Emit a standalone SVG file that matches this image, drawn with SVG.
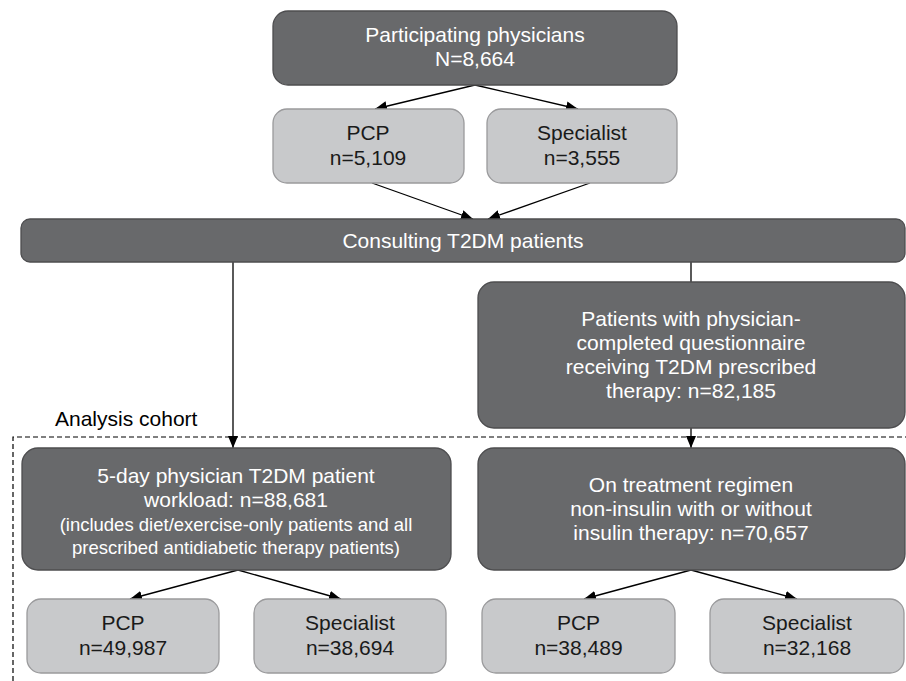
<svg xmlns="http://www.w3.org/2000/svg" width="906" height="681" viewBox="0 0 906 681">
<defs>
<marker id="ah" markerUnits="userSpaceOnUse" markerWidth="13" markerHeight="11" refX="12" refY="5" orient="auto" viewBox="0 0 13 11">
<path d="M0,0 L12,5 L0,10 z" fill="#000"/>
</marker>
<style>
.dk{fill:#68696b;stroke:#4d4d4f;stroke-width:1.3}
.lt{fill:#c8c9cb;stroke:#9a9a9c;stroke-width:1.3}
.tw{font-family:"Liberation Sans",Arial,sans-serif;font-size:21px;fill:#fff;text-anchor:middle}
.tb{font-family:"Liberation Sans",Arial,sans-serif;font-size:21px;fill:#1a1a1a;text-anchor:middle}
.ts{font-size:18.5px}
.cn{stroke:#000;stroke-width:1.3;fill:none}
.ar{marker-end:url(#ah)}
</style>
</defs>
<rect width="906" height="681" fill="#fff"/>
<g id="connectors">
<line class="cn ar" x1="475" y1="85" x2="375" y2="109"/>
<line class="cn ar" x1="475" y1="85" x2="578" y2="109"/>
<line class="cn ar" x1="372" y1="183" x2="473" y2="219"/>
<line class="cn ar" x1="590" y1="183" x2="488" y2="219"/>
<line class="cn ar" x1="233" y1="262" x2="233" y2="448"/>
<line class="cn" x1="691" y1="262" x2="691" y2="282"/>
<line class="cn ar" x1="691" y1="428" x2="691" y2="448"/>
<line class="cn ar" x1="238" y1="570" x2="130" y2="599"/>
<line class="cn ar" x1="238" y1="570" x2="341" y2="599"/>
<line class="cn ar" x1="691" y1="570" x2="584" y2="599"/>
<line class="cn ar" x1="691" y1="570" x2="797" y2="599"/>
</g>
<g id="cohort">
<path d="M13,681 V437 H906" fill="none" stroke="#000" stroke-width="1.2" stroke-dasharray="5,3"/>
<text x="55" y="426" class="tb" style="text-anchor:start;fill:#000">Analysis cohort</text>
</g>
<g id="participating">
<rect class="dk" x="273" y="11" width="404" height="74" rx="15"/>
<text class="tw" x="475" y="42">Participating physicians</text>
<text class="tw" x="475" y="66">N=8,664</text>
</g>
<g id="pcp-top">
<rect class="lt" x="273" y="109" width="191" height="74" rx="14"/>
<text class="tb" x="368" y="140">PCP</text>
<text class="tb" x="368" y="164.5">n=5,109</text>
</g>
<g id="specialist-top">
<rect class="lt" x="487" y="109" width="190" height="74" rx="14"/>
<text class="tb" x="582" y="140">Specialist</text>
<text class="tb" x="582" y="164.5">n=3,555</text>
</g>
<g id="consulting">
<rect class="dk" x="21" y="219" width="884" height="43" rx="9"/>
<text class="tw" x="463" y="248">Consulting T2DM patients</text>
</g>
<g id="questionnaire">
<rect class="dk" x="478" y="282" width="427" height="146" rx="16"/>
<text class="tw" x="691" y="326">Patients with physician-</text>
<text class="tw" x="691" y="350">completed questionnaire</text>
<text class="tw" x="691" y="374">receiving T2DM prescribed</text>
<text class="tw" x="691" y="398">therapy: n=82,185</text>
</g>
<g id="workload">
<rect class="dk" x="22" y="448" width="429" height="122" rx="16"/>
<text class="tw" x="236" y="483">5-day physician T2DM patient</text>
<text class="tw" x="236" y="507">workload: n=88,681</text>
<text class="tw ts" x="236" y="531">(includes diet/exercise-only patients and all</text>
<text class="tw ts" x="236" y="554">prescribed antidiabetic therapy patients)</text>
</g>
<g id="regimen">
<rect class="dk" x="478" y="448" width="427" height="122" rx="16"/>
<text class="tw" x="691" y="492">On treatment regimen</text>
<text class="tw" x="691" y="516">non-insulin with or without</text>
<text class="tw" x="691" y="540">insulin therapy: n=70,657</text>
</g>
<g id="pcp-workload">
<rect class="lt" x="27" y="599" width="192" height="74" rx="14"/>
<text class="tb" x="123" y="630">PCP</text>
<text class="tb" x="123" y="654.5">n=49,987</text>
</g>
<g id="specialist-workload">
<rect class="lt" x="254" y="599" width="192" height="74" rx="14"/>
<text class="tb" x="350" y="630">Specialist</text>
<text class="tb" x="350" y="654.5">n=38,694</text>
</g>
<g id="pcp-regimen">
<rect class="lt" x="482" y="599" width="193" height="74" rx="14"/>
<text class="tb" x="578.5" y="630">PCP</text>
<text class="tb" x="578.5" y="654.5">n=38,489</text>
</g>
<g id="specialist-regimen">
<rect class="lt" x="710" y="599" width="194" height="74" rx="14"/>
<text class="tb" x="807" y="630">Specialist</text>
<text class="tb" x="807" y="654.5">n=32,168</text>
</g>
</svg>
